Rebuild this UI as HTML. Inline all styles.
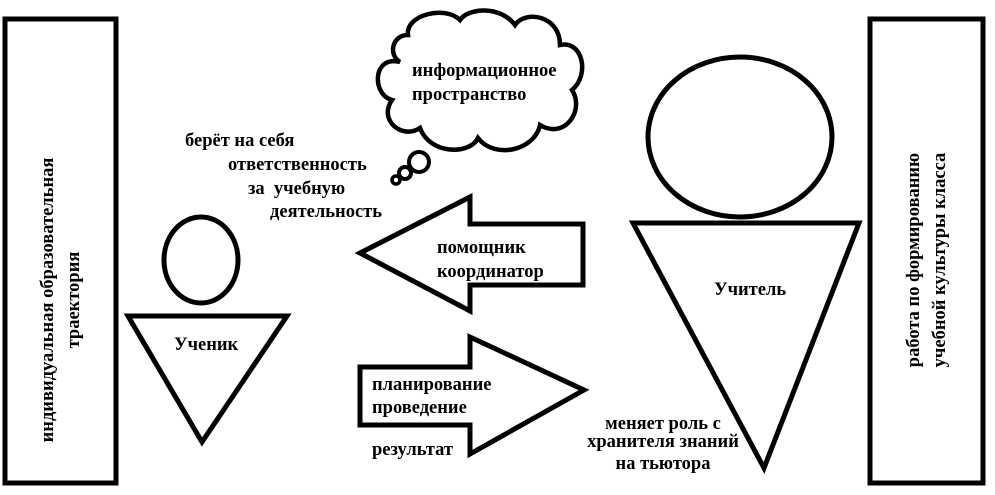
<!DOCTYPE html>
<html><head><meta charset="utf-8"><style>
html,body{margin:0;padding:0;background:#fff;}
svg{display:block;}
text{font-family:"Liberation Serif","DejaVu Serif",serif;font-weight:bold;font-size:18.5px;fill:#000;}
</style></head><body>
<svg width="995" height="495" viewBox="0 0 995 495" xmlns="http://www.w3.org/2000/svg">
<g fill="none" stroke="#000" stroke-width="5" stroke-linejoin="miter">
<rect x="5" y="19" width="111" height="464"/>
<rect x="870" y="19" width="113" height="464"/>
<ellipse cx="201" cy="260" rx="37" ry="43"/>
<polygon points="128,316 287,316 202,442"/>
<ellipse cx="740" cy="137" rx="92" ry="80"/>
<polygon points="633,223 859,223 764,468"/>
<polygon points="360,253 470,197 470,224 583,224 583,285 470,285 470,311"/>
<polygon points="360,367 470,367 470,337 584,390 470,454 470,425 360,425"/>
<path d="M400,62 C372,55 372,95 392,100 C378,120 402,140 420,128 C430,155 470,155 478,138 C495,160 535,150 540,125 C565,140 585,110 572,90 C590,75 583,40 560,45 C560,15 525,10 515,25 C500,5 468,8 460,20 C445,5 405,15 408,35 C392,35 388,55 400,62 Z" stroke-width="4.5"/>
<circle cx="419" cy="162" r="10" stroke-width="4"/>
<circle cx="405" cy="173" r="6" stroke-width="4"/>
<circle cx="396" cy="180" r="4" stroke-width="3.5"/>
</g>
<text x="412" y="76">информационное</text>
<text x="412" y="100">пространство</text>
<text x="185" y="146">берёт на себя</text>
<text x="228" y="170">ответственность</text>
<text x="248" y="194" xml:space="preserve">за  учебную</text>
<text x="270" y="217">деятельность</text>
<text x="437" y="253">помощник</text>
<text x="437" y="277">координатор</text>
<text x="174" y="350">Ученик</text>
<text x="714" y="295">Учитель</text>
<text x="372" y="390">планирование</text>
<text x="372" y="413">проведение</text>
<text x="372" y="455">результат</text>
<text x="663" y="429" text-anchor="middle">меняет роль с</text>
<text x="663" y="447" text-anchor="middle">хранителя знаний</text>
<text x="663" y="469" text-anchor="middle">на тьютора</text>
<text transform="translate(53,300) rotate(-90)" text-anchor="middle">индивидуальная образовательная</text>
<text transform="translate(79,300) rotate(-90)" text-anchor="middle">траектория</text>
<text transform="translate(919,260) rotate(-90)" text-anchor="middle">работа по формированию</text>
<text transform="translate(945,260) rotate(-90)" text-anchor="middle">учебной культуры класса</text>
</svg>
</body></html>
